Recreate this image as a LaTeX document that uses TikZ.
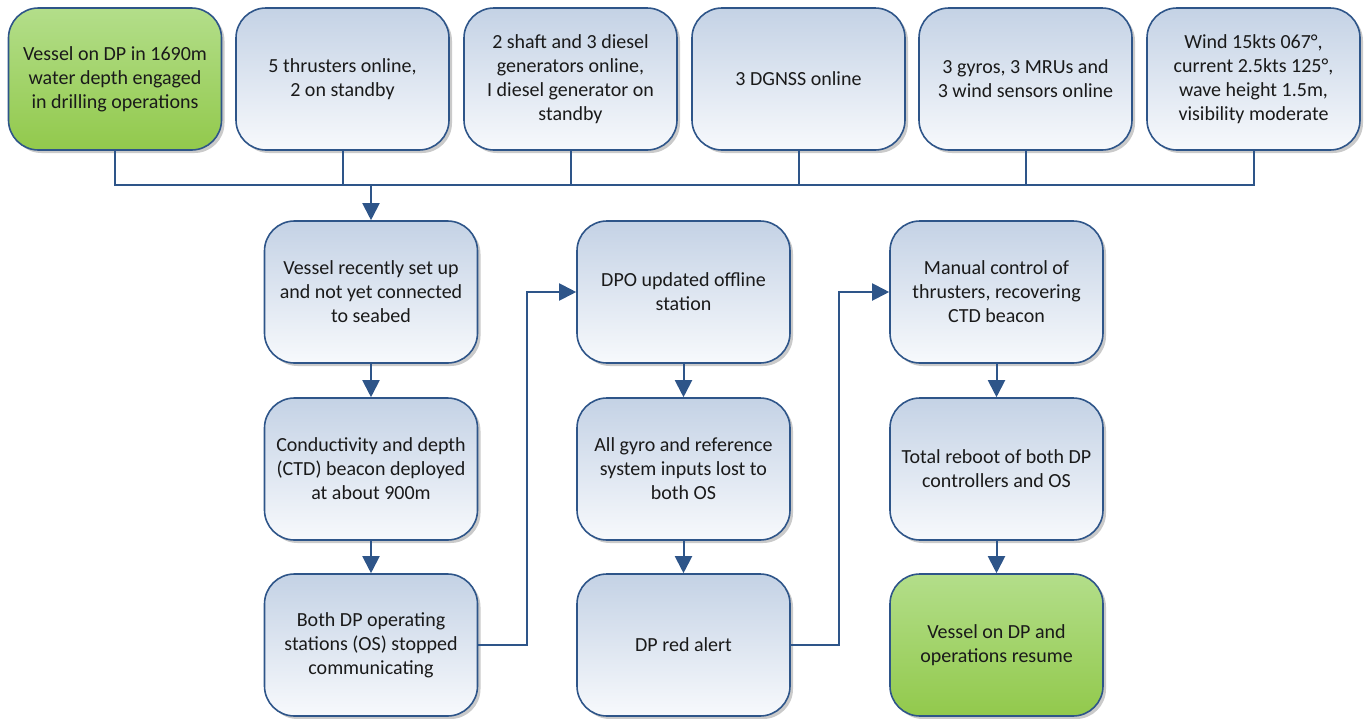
\documentclass[tikz,border=0pt]{standalone}
\usepackage{fontspec}
\setmainfont{Carlito}
\usetikzlibrary{arrows.meta,shadows,positioning}
\definecolor{bord}{HTML}{2E5589}
\definecolor{btop}{HTML}{C4D2E5}
\definecolor{bbot}{HTML}{F7F9FC}
\definecolor{gtop}{HTML}{B3DE8A}
\definecolor{gbot}{HTML}{92C94C}
\definecolor{txt}{HTML}{1A1A1A}
\tikzset{
  box/.style={draw=bord, line width=1.6pt, rounded corners=30pt,
    minimum width=213pt, minimum height=142pt, align=center,
    font=\fontsize{20}{24}\selectfont, text=txt,
    top color=btop, bottom color=bbot,
    drop shadow={shadow xshift=3pt, shadow yshift=-3pt, opacity=0.35, fill=black!60}},
  gbox/.style={box, top color=gtop, bottom color=gbot},
  link/.style={draw=bord, line width=2pt},
  arr/.style={link, -{Triangle[width=17pt,length=17pt]}},
}
\begin{document}
\begin{tikzpicture}[x=1pt,y=1pt]
\useasboundingbox (0,0) rectangle (1366,-718);
% top row
\node[gbox] (t1) at (115,-79) {Vessel on DP in 1690m\\water depth engaged\\in drilling operations};
\node[box] (t2) at (342.5,-79) {5 thrusters online,\\2 on standby};
\node[box] (t3) at (570.5,-79) {2 shaft and 3 diesel\\generators online,\\I diesel generator on\\standby};
\node[box] (t4) at (798.5,-79) {3 DGNSS online};
\node[box] (t5) at (1025.5,-79) {3 gyros, 3 MRUs and\\3 wind sensors online};
\node[box] (t6) at (1253.5,-79) {Wind 15kts 067°,\\current 2.5kts 125°,\\wave height 1.5m,\\visibility moderate};
% column 1
\node[box] (a1) at (371,-292) {Vessel recently set up\\and not yet connected\\to seabed};
\node[box] (a2) at (371,-469) {Conductivity and depth\\(CTD) beacon deployed\\at about 900m};
\node[box] (a3) at (371,-645) {Both DP operating\\stations (OS) stopped\\communicating};
% column 2
\node[box] (b1) at (683.5,-292) {DPO updated offline\\station};
\node[box] (b2) at (683.5,-469) {All gyro and reference\\system inputs lost to\\both OS};
\node[box] (b3) at (683.5,-645) {DP red alert};
% column 3
\node[box] (c1) at (996.5,-292) {Manual control of\\thrusters, recovering\\CTD beacon};
\node[box] (c2) at (996.5,-469) {Total reboot of both DP\\controllers and OS};
\node[gbox] (c3) at (996.5,-645) {Vessel on DP and\\operations resume};
% bus
\coordinate (busL) at (115,-185);
\coordinate (busR) at (1253.5,-185);
\coordinate (busA) at (371,-185);
\draw[link] (t1.south) |- (busR) -- (t6.south);
\foreach \n in {t2,t3,t4,t5} \draw[link] (\n.south) -- (\n.south |- busL);
\draw[arr] (busA) -- (a1.north);
% vertical arrows
\draw[arr] (a1) -- (a2);
\draw[arr] (a2) -- (a3);
\draw[arr] (b1) -- (b2);
\draw[arr] (b2) -- (b3);
\draw[arr] (c1) -- (c2);
\draw[arr] (c2) -- (c3);
% cross links
\coordinate (j1) at (527,-645);
\coordinate (j2) at (839,-645);
\draw[arr] (a3.east) -- (j1) |- (b1.west);
\draw[arr] (b3.east) -- (j2) |- (c1.west);
\end{tikzpicture}
\end{document}
